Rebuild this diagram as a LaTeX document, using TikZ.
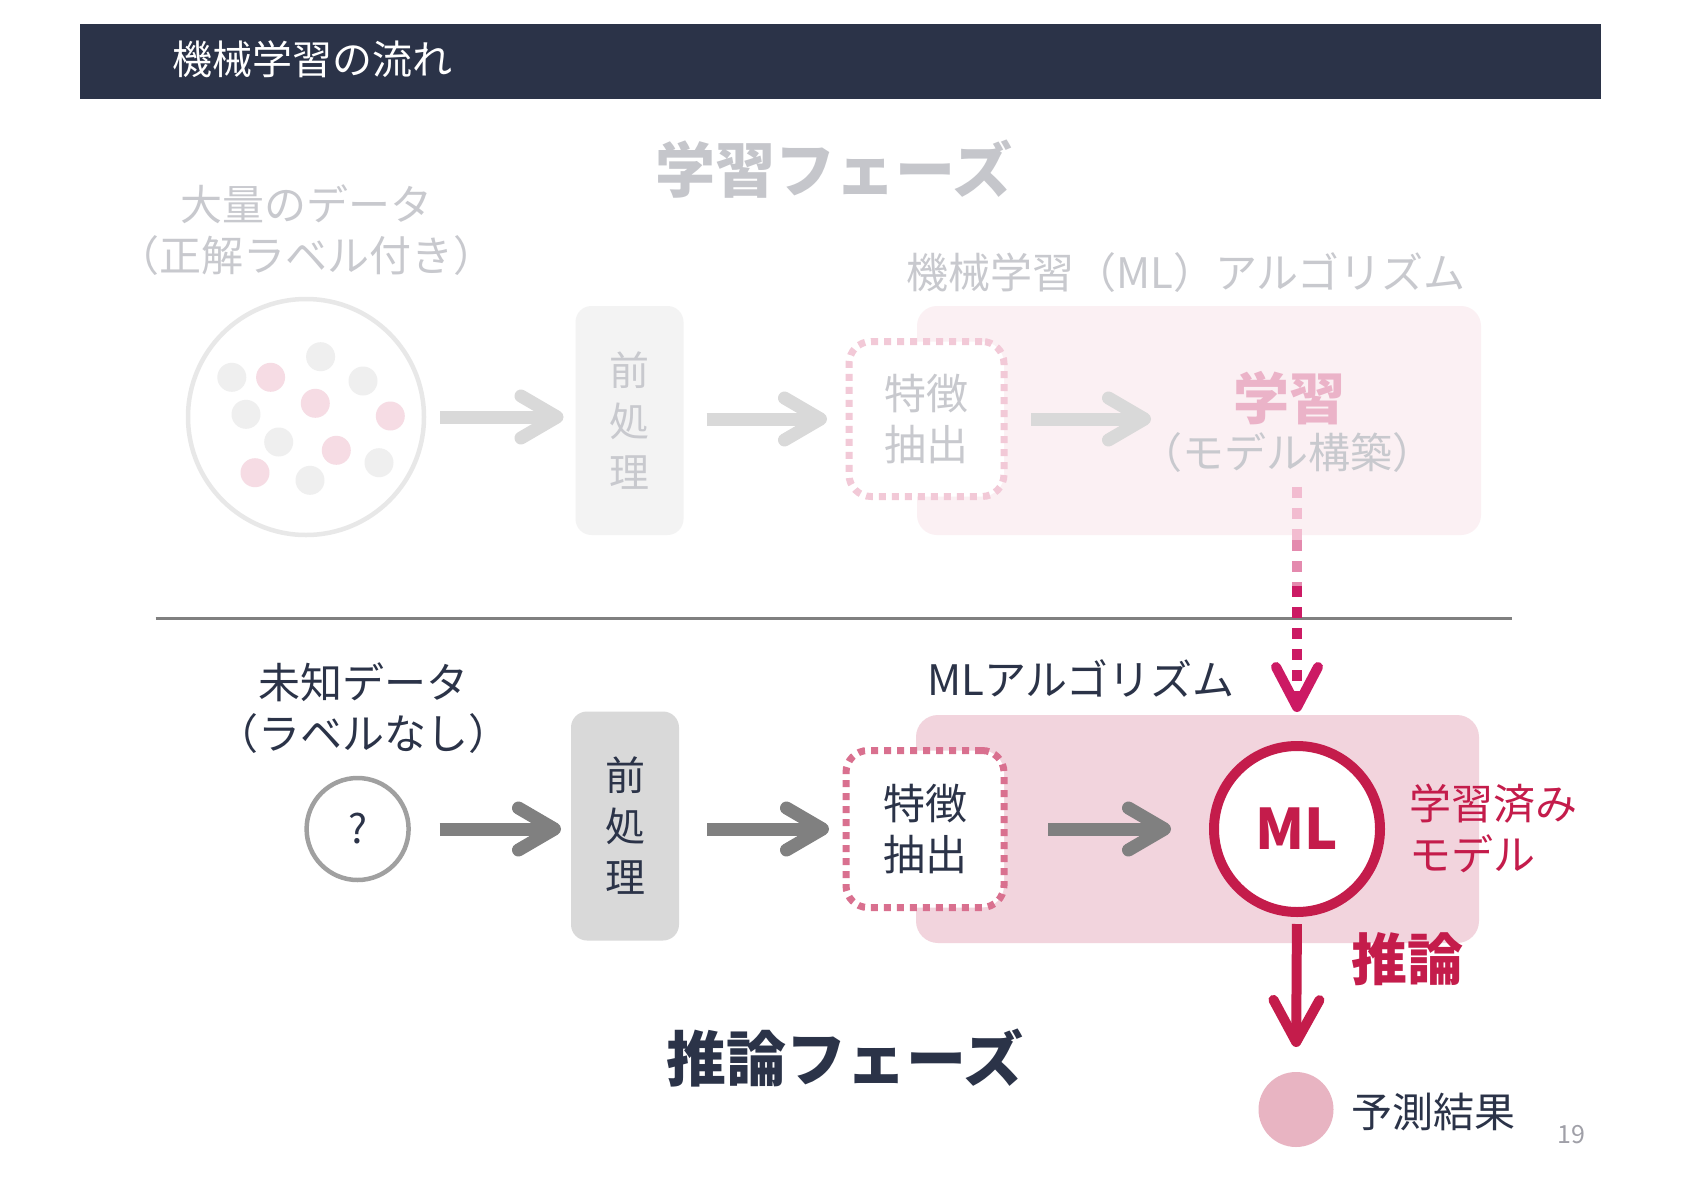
\documentclass[tikz,border=0pt]{standalone}
\usepackage{fontspec}
\setmainfont{Noto Sans CJK JP}
\usetikzlibrary{arrows.meta}
\definecolor{navy}{HTML}{2B3348}
\definecolor{lgtext}{HTML}{C8C9CE}
\definecolor{phasegray}{HTML}{C5C6CB}
\definecolor{circgray}{HTML}{E8E8E8}
\definecolor{dotgray}{HTML}{EFEFEF}
\definecolor{dotpink}{HTML}{F6DCE4}
\definecolor{boxlight}{HTML}{F3F3F3}
\definecolor{pinklight}{HTML}{FBF0F3}
\definecolor{fedashlight}{HTML}{F2C9D7}
\definecolor{arrowlight}{HTML}{D9D9D9}
\definecolor{learnpink}{HTML}{EBB3C8}
\definecolor{arrowdark}{HTML}{808080}
\definecolor{boxgray}{HTML}{D9D9D9}
\definecolor{pinkmid}{HTML}{F2D4DD}
\definecolor{fedash}{HTML}{D9708F}
\definecolor{crimson}{HTML}{C41C4B}
\definecolor{magentax}{HTML}{CC1A64}
\definecolor{magentalt}{HTML}{F2BCD0}
\definecolor{magentamid}{HTML}{E48AAE}
\definecolor{resultpink}{HTML}{E8B4C2}
\definecolor{pagegray}{HTML}{A0A0A8}
\definecolor{sepgray}{HTML}{808080}
\newcommand\fsz[2]{\fontsize{#1}{#2}\selectfont}
\tikzset{
  plain/.style={inner sep=0pt, outer sep=0pt},
  garrowlight/.style={draw=arrowlight, line width=13pt, -{Straight Barb[length=36pt,width=42pt,round]}},
  garrowdark/.style={draw=arrowdark, line width=13pt, -{Straight Barb[length=36pt,width=42pt,round]}},
  stepbox/.style={plain, rounded corners=16pt, minimum width=108pt, minimum height=229pt, align=center, font=\fsz{40}{51}},
  febox/.style={plain, rounded corners=22pt, fill=white, line width=7pt, dash pattern=on 7pt off 6pt, minimum width=155pt, minimum height=155pt, align=center, font=\fsz{42}{51}},
  dotline/.style={line width=10pt, dash pattern=on 11pt off 10pt},
}
\begin{document}
\begin{tikzpicture}[x=1pt,y=-1pt]
\useasboundingbox (0,0) rectangle (1684,1191);
\fill[white] (0,0) rectangle (1684,1191);

% header
\node[plain, fill=navy, minimum width=1521pt, minimum height=75pt, anchor=north west] (header) at (80,24) {};
\node[plain, anchor=west, text=white, font=\fsz{40}{48}] (title) at (172,59) {機械学習の流れ};

% ---------- learning phase ----------
\node[plain, text=phasegray, font=\fsz{60}{72}\bfseries] (lphase) at (834,169) {学習フェーズ};
\node[plain, text=lgtext, align=center, font=\fsz{42}{51}] (datalbl) at (306,230) {大量のデータ\\（正解ラベル付き）};

\node[plain, circle, draw=circgray, line width=4.5pt, minimum size=236pt] (data) at (306,417) {};
\foreach \x/\y in {231.8/377.3, 320.6/356.7, 363/381, 246/414.3, 278.7/442, 379/462.7, 310/480.3}
  \fill[dotgray] (\x,\y) circle (14.5);
\foreach \x/\y in {270.6/377.3, 315.3/403.3, 390.3/416, 336.3/450.3, 255/472.7}
  \fill[dotpink] (\x,\y) circle (14.5);

\node[stepbox, fill=boxlight, text=lgtext] (pre1) at (629.5,420.5) {前\\処\\理};

\node[plain, fill=pinklight, rounded corners=20pt, minimum width=564pt, minimum height=229pt] (alg1) at (1199,420.5) {};
\node[plain, text=lgtext, font=\fsz{42}{51}] (alg1lbl) at (1186,273) {機械学習（ML）アルゴリズム};

\node[febox, draw=fedashlight, text=lgtext] (fe1) at (926.5,419) {特徴\\抽出};

\node[plain, text=learnpink, font=\fsz{56}{60}\bfseries] (learn) at (1289,398) {学習};
\node[plain, text=lgtext, font=\fsz{42}{50}] (modl) at (1287,453) {（モデル構築）};

\draw[garrowlight, shorten <=16pt, shorten >=12pt] (data.east) -- (data.east -| pre1.west);
\draw[garrowlight, shorten <=23pt, shorten >=22pt] (pre1.east |- fe1.west) -- (fe1.west);
\draw[garrowlight, shorten <=27pt, shorten >=82pt] (fe1.east) -- (fe1.east -| learn.west);

% separator
\draw[sepgray, line width=3.5pt] (155.7,618.6) -- (1512,618.6);

% ---------- inference phase ----------
\node[plain, text=navy, align=center, font=\fsz{42}{50.5}] (unk) at (363,708) {未知データ\\（ラベルなし）};
\node[plain, circle, draw=arrowdark!75, line width=4.5pt, minimum size=102pt, text=navy, font=\fsz{40}{48}] (q) at (357.6,829) {?};

\node[stepbox, fill=boxgray, text=navy] (pre2) at (625,826) {前\\処\\理};

\node[plain, fill=pinkmid, rounded corners=22pt, minimum width=563pt, minimum height=228pt] (alg2) at (1197.5,829) {};
\node[plain, text=navy, font=\fsz{42}{50}] (alg2lbl) at (1081,679) {MLアルゴリズム};

\node[febox, draw=fedash, minimum width=158pt, minimum height=157pt, text=navy] (fe2) at (925,829) {特徴\\抽出};

\node[plain, circle, fill=white, draw=crimson, line width=10pt, minimum size=166pt, text=crimson, font=\fsz{56}{60}\bfseries] (ml) at (1297,829) {ML};
\node[plain, anchor=west, align=left, text=crimson, font=\fsz{42}{51}] (trained) at (1409,828.5) {学習済み\\モデル};

\draw[garrowdark, shorten <=31pt, shorten >=10pt] (q.east) -- (q.east -| pre2.west);
\draw[garrowdark, shorten <=28pt, shorten >=17pt] (pre2.east |- fe2.west) -- (fe2.west);
\draw[garrowdark, shorten <=44pt, shorten >=43pt] (fe2.east) -- (ml.west);

% dotted connector from learning to trained model
\coordinate (d1) at (1297,540);
\coordinate (d2) at (1297,586);
\draw[dotline, magentalt, shorten <=14pt] (modl.south -| ml.north) -- (d1);
\draw[dotline, magentamid] (d1) -- (d2);
\draw[dotline, magentax, shorten >=34pt, -{Straight Barb[length=40pt,width=42pt,round]}] (d2) -- (ml.north);

% inference arrow and result
\node[plain, circle, fill=resultpink, minimum size=75pt] (res) at (1296,1109.5) {};
\node[plain, anchor=west, text=navy, font=\fsz{41}{50}] (reslbl) at (1351,1111.6) {予測結果};
\draw[crimson, line width=10pt, shorten <=12pt, shorten >=25pt, -{Straight Barb[length=42pt,width=46pt,round]}] (ml.south) -- (res.north);
\node[plain, text=crimson, font=\fsz{56}{60}\bfseries] (infer) at (1407,959) {推論};

\node[plain, text=navy, font=\fsz{60}{72}\bfseries] (iphase) at (845,1058) {推論フェーズ};
\node[plain, text=pagegray, font=\fsz{25}{30}] (page) at (1571,1135) {19};
\end{tikzpicture}
\end{document}
